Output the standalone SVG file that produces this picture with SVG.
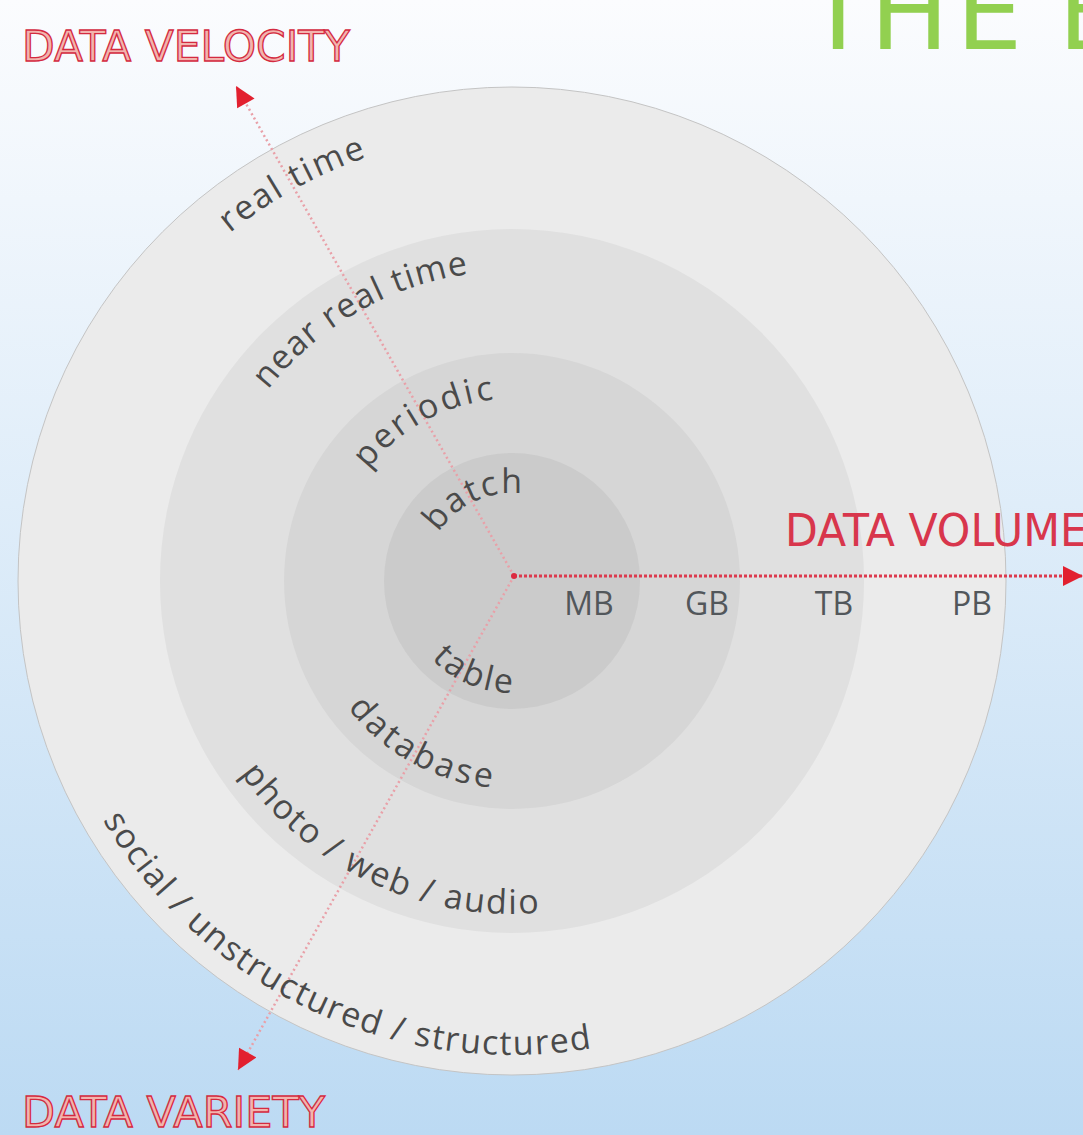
<svg xmlns="http://www.w3.org/2000/svg" width="1083" height="1135" viewBox="0 0 1083 1135">
<style>
.lbl{font-family:"Open Sans","Liberation Sans",sans-serif;font-size:34px;fill:#4a4a4a;}
.unit{font-family:"Open Sans","Liberation Sans",sans-serif;font-size:32px;fill:#52575b;}
.axis{font-family:"DejaVu Sans","Liberation Sans",sans-serif;fill:#f2b4ae;stroke:#d42a40;stroke-width:1.3px;}
.vol{font-family:"DejaVu Sans","Liberation Sans",sans-serif;font-size:44px;fill:#d8364c;}
.title{font-family:"DejaVu Sans","Liberation Sans",sans-serif;font-size:105px;fill:#92d050;}
</style>
<defs>
<linearGradient id="bg" x1="0" y1="0" x2="0" y2="1">
<stop offset="0" stop-color="#fbfcfe"/>
<stop offset="1" stop-color="#bcdaf3"/>
</linearGradient>
<marker id="ah" viewBox="0 0 10 10" refX="10" refY="5" markerWidth="24" markerHeight="20" markerUnits="userSpaceOnUse" orient="auto">
<path d="M0,0 L10,5 L0,10 z" fill="#e2202f"/>
</marker>
<path id="p-rt" d="M102.7,763.2 A448,448 0 0 1 883.4,330.5"/>
<path id="p-nrt" d="M231.0,712.0 A310,310 0 0 1 765.9,403.2"/>
<path id="p-per" d="M345.7,655.0 A182,182 0 0 1 662.9,479.2"/>
<path id="p-bat" d="M429.3,611.1 A88,88 0 0 1 588.2,537.0"/>
<path id="p-tab" d="M405.5,546.4 A112,112 0 0 0 610.9,633.6"/>
<path id="p-db" d="M322.0,496.4 A208,208 0 0 0 684.4,697.3"/>
<path id="p-pwa" d="M199.1,467.1 A333,333 0 0 0 800.4,747.5"/>
<path id="p-soc" d="M66.6,418.9 A474,474 0 0 0 922.5,818"/>
</defs>
<rect width="1083" height="1135" fill="url(#bg)"/>
<g id="title"><text class="title" y="49" x="806 870 956 1058">THEB</text></g>
<g id="rings">
<circle id="ring-outer" cx="512" cy="581" r="494" fill="#ebebeb" stroke="#c4c4c4" stroke-width="1"/>
<circle id="ring-2" cx="512" cy="581" r="352" fill="#e0e0e0"/>
<circle id="ring-3" cx="512" cy="581" r="228" fill="#d6d6d6"/>
<circle id="ring-inner" cx="512" cy="581" r="128" fill="#cbcbcb"/>
</g>
<g id="connectors">
<line x1="514" y1="576" x2="236" y2="86" stroke="#e9a0a8" stroke-width="2.5" stroke-dasharray="2 3" marker-end="url(#ah)"/>
<line x1="514" y1="576" x2="238" y2="1070" stroke="#e9a0a8" stroke-width="2.5" stroke-dasharray="2 3" marker-end="url(#ah)"/>
<line x1="514" y1="576" x2="1083" y2="576" stroke="#dc3a4e" stroke-width="3" stroke-dasharray="3 2" marker-end="url(#ah)"/>
<circle cx="514" cy="576" r="3" fill="#dc2a40"/>
</g>
<g id="velocity-labels">
<text class="lbl"><textPath href="#p-rt" startOffset="50%" text-anchor="middle" textLength="157" lengthAdjust="spacing">real time</textPath></text>
<text class="lbl"><textPath href="#p-nrt" startOffset="50%" text-anchor="middle" textLength="237" lengthAdjust="spacing">near real time</textPath></text>
<text class="lbl"><textPath href="#p-per" startOffset="50%" text-anchor="middle" textLength="148" lengthAdjust="spacing">periodic</textPath></text>
<text class="lbl"><textPath href="#p-bat" startOffset="50%" text-anchor="middle" textLength="97" lengthAdjust="spacing">batch</textPath></text>
</g>
<g id="variety-labels">
<text class="lbl"><textPath href="#p-tab" startOffset="50%" text-anchor="middle" textLength="90" lengthAdjust="spacing">table</textPath></text>
<text class="lbl"><textPath href="#p-db" startOffset="50%" text-anchor="middle" textLength="169" lengthAdjust="spacing">database</textPath></text>
<text class="lbl"><textPath href="#p-pwa" startOffset="50%" text-anchor="middle" textLength="345" lengthAdjust="spacing">photo / web / audio</textPath></text>
<text class="lbl"><textPath href="#p-soc" startOffset="50%" text-anchor="middle" textLength="574" lengthAdjust="spacing">social / unstructured / structured</textPath></text>
</g>
<g id="volume-labels">
<text class="unit" x="589" y="615" text-anchor="middle">MB</text>
<text class="unit" x="707" y="615" text-anchor="middle">GB</text>
<text class="unit" x="834" y="615" text-anchor="middle">TB</text>
<text class="unit" x="972" y="615" text-anchor="middle">PB</text>
</g>
<g id="axis-titles">
<text class="axis" x="22" y="61" font-size="42" textLength="328" lengthAdjust="spacingAndGlyphs">DATA VELOCITY</text>
<text class="vol" x="785" y="546" textLength="302" lengthAdjust="spacingAndGlyphs">DATA VOLUME</text>
<text class="axis" x="22" y="1127" font-size="42" textLength="303" lengthAdjust="spacingAndGlyphs">DATA VARIETY</text>
</g>
</svg>
